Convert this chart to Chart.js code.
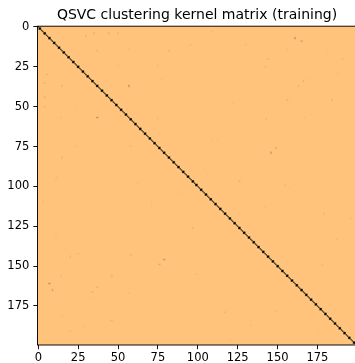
<!DOCTYPE html>
<html>
<head>
<meta charset="utf-8">
<script src="https://cdn.jsdelivr.net/npm/chart.js@4/dist/chart.umd.min.js"></script>
<style>
  html, body { margin: 0; padding: 0; overflow: hidden; background: #ffffff; }
  canvas { display: block; }
</style>
</head>
<body>
<canvas id="kernel" width="394" height="363"></canvas>
<script>
// ---- data -------------------------------------------------------------
const titleText = 'QSVC clustering kernel matrix (training)';
const sampleCount = 200;
const tickValues = [0, 25, 50, 75, 100, 125, 150, 175];
const diagonalValue = 1.0;
const offDiagonalValue = 0.02;
const colorRange = [0, 1];

// Off-diagonal pairs with a noticeably higher kernel value (row, column, value).
// The kernel is symmetric, so each pair is written to (r, c) and (c, r).
const pairRows = [
  5, 15, 4, 14, 4, 4, 37, 24, 15, 7, 9, 11, 3, 11, 20, 34, 20, 79, 76, 37,
  58, 46, 29, 149, 133, 117, 15, 6, 48, 62, 90, 71, 101, 120,
  25, 14, 46, 33, 57, 15, 99, 113, 175, 24, 52, 58, 12, 33, 90, 93, 97, 71
];
const pairCols = [
  30, 37, 44, 57, 50, 35, 57, 75, 82, 161, 165, 96, 109, 130, 144, 166, 191, 146, 149, 163,
  143, 184, 188, 178, 187, 179, 37, 30, 122, 98, 170, 112, 158, 196,
  142, 156, 156, 170, 167, 181, 155, 142, 190, 50, 56, 75, 94, 77, 104, 106, 126, 109
];
const pairValues = [
  0.18, 0.16, 0.16, 0.16, 0.14, 0.16, 0.34, 0.14, 0.16, 0.34, 0.26, 0.16, 0.14, 0.16, 0.16, 0.16, 0.16, 0.32, 0.22, 0.16,
  0.14, 0.16, 0.14, 0.16, 0.14, 0.14, 0.16, 0.14, 0.10, 0.10, 0.10, 0.10, 0.10, 0.10,
  0.11, 0.11, 0.11, 0.11, 0.12, 0.11, 0.11, 0.11, 0.11, 0.10, 0.10, 0.10, 0.10, 0.10, 0.10, 0.10, 0.10, 0.10
];

// ---- matrix -----------------------------------------------------------
const kernel = [];
for (let r = 0; r < sampleCount; r++) {
  const row = new Array(sampleCount).fill(offDiagonalValue);
  row[r] = diagonalValue;
  kernel.push(row);
}
pairRows.forEach((r, k) => {
  const c = pairCols[k];
  kernel[r][c] = pairValues[k];
  kernel[c][r] = pairValues[k];
});

const cells = [];
for (let r = 0; r < sampleCount; r++) {
  for (let c = 0; c < sampleCount; c++) {
    cells.push({ x: c, y: r, v: kernel[r][c] });
  }
}

// reversed "copper" colour map: low similarity -> light copper, high -> black
function copperR(v) {
  const t = Math.max(0, Math.min(1, (v - colorRange[0]) / (colorRange[1] - colorRange[0])));
  const s = 1 - t;
  return [Math.min(1, 1.25 * s) * 255, 0.7812 * s * 255, 0.4975 * s * 255];
}

// paints the cell values as an image placed on the x/y scales
const heatmapPlugin = {
  id: 'heatmap',
  beforeDatasetsDraw(chart) {
    const pts = chart.data.datasets[0].data;
    const off = document.createElement('canvas');
    off.width = sampleCount;
    off.height = sampleCount;
    const octx = off.getContext('2d');
    const img = octx.createImageData(sampleCount, sampleCount);
    pts.forEach(p => {
      const [r, g, b] = copperR(p.v);
      const i = (p.y * sampleCount + p.x) * 4;
      img.data[i] = r; img.data[i + 1] = g; img.data[i + 2] = b; img.data[i + 3] = 255;
    });
    octx.putImageData(img, 0, 0);

    // nearest-neighbour pass at an intermediate size, then a smooth resample
    const midSize = Math.round(sampleCount * 4 / 3);
    const mid = document.createElement('canvas');
    mid.width = midSize;
    mid.height = midSize;
    const mctx = mid.getContext('2d');
    mctx.imageSmoothingEnabled = false;
    mctx.drawImage(off, 0, 0, midSize, midSize);

    const xs = chart.scales.x, ys = chart.scales.y;
    const x0 = xs.getPixelForValue(-0.5), x1 = xs.getPixelForValue(sampleCount - 0.5);
    const y0 = ys.getPixelForValue(-0.5), y1 = ys.getPixelForValue(sampleCount - 0.5);
    const ctx = chart.ctx;
    ctx.save();
    ctx.imageSmoothingEnabled = true;
    ctx.imageSmoothingQuality = 'high';
    ctx.drawImage(mid, x0, y0, x1 - x0, y1 - y0);
    ctx.restore();
  },
  afterDraw(chart) {
    const { ctx, chartArea: a } = chart;
    ctx.save();
    ctx.strokeStyle = '#000000';
    ctx.lineWidth = 0.93;
    ctx.strokeRect(a.left, a.top, a.right - a.left, a.bottom - a.top);
    ctx.fillStyle = '#000000';
    ctx.font = '14px "DejaVu Sans"';
    ctx.textAlign = 'center';
    ctx.textBaseline = 'alphabetic';
    ctx.fillText(titleText, (a.left + a.right) / 2, a.top - 7);
    ctx.restore();
  }
};

const setTicks = scale => { scale.ticks = tickValues.map(value => ({ value })); };
const tickFont = { family: '"DejaVu Sans"', size: 11.5 };
const gridOpts = { display: true, drawOnChartArea: false, drawTicks: true, tickLength: 4.2, tickWidth: 0.93, tickColor: '#000000' };

new Chart(document.getElementById('kernel'), {
  type: 'scatter',
  data: { datasets: [{ data: cells, pointRadius: 0, pointHoverRadius: 0 }] },
  options: {
    responsive: false,
    animation: false,
    events: [],
    layout: { padding: { top: 26.2, right: 37.5, left: 0, bottom: 0 } },
    plugins: { legend: { display: false }, tooltip: { enabled: false }, title: { display: false } },
    scales: {
      x: {
        type: 'linear', position: 'bottom', min: -0.5, max: sampleCount - 0.5,
        afterBuildTicks: setTicks,
        afterFit: s => { s.height = 18; },
        grid: gridOpts,
        border: { display: false },
        ticks: { font: tickFont, color: '#000000', padding: 2, maxRotation: 0, autoSkip: false }
      },
      y: {
        type: 'linear', position: 'left', reverse: true, min: -0.5, max: sampleCount - 0.5,
        afterBuildTicks: setTicks,
        afterFit: s => { s.width = 37.5; },
        grid: gridOpts,
        border: { display: false },
        ticks: { font: tickFont, color: '#000000', padding: 4, autoSkip: false }
      }
    }
  },
  plugins: [heatmapPlugin]
});
</script>
</body>
</html>
